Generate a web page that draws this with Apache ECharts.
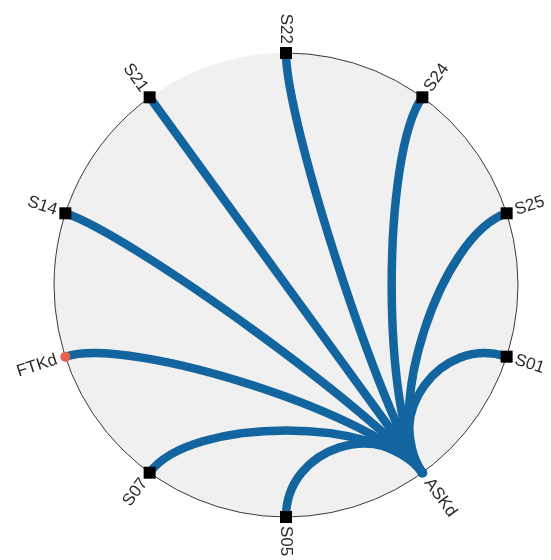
<!DOCTYPE html>
<html>
<head>
<meta charset="utf-8">
<script src="https://cdn.jsdelivr.net/npm/echarts@6/dist/echarts.min.js"></script>
<style>
  html, body { margin: 0; padding: 0; background: #fff; }
  #chart { width: 551px; height: 560px; }
</style>
</head>
<body>
<div id="chart"></div>
<script>
// nodes around the ring, clockwise from the top
const nodes = ["S22", "S24", "S25", "S01", "ASKd", "S05", "S07", "FTKd", "S14", "S21"];
// every link goes out of ASKd
const linkSource = ["ASKd", "ASKd", "ASKd", "ASKd", "ASKd", "ASKd", "ASKd", "ASKd", "ASKd"];
const linkTarget = ["S22", "S24", "S25", "S01", "S05", "S07", "FTKd", "S14", "S21"];
// all nodes sit on the rim
const nodeRadius = [1, 1, 1, 1, 1, 1, 1, 1, 1, 1];

const edgeColor = "#13659f";
const markerStyle = {
  ASKd: { shape: "circle", color: edgeColor },
  FTKd: { shape: "circle", color: "#e8614b" }
};
// how far the bezier handles are pulled toward the centre
const pull = 0.3;

let myChart = echarts.init(document.getElementById("chart"));

// cubic curve, both handles pulled in toward the centre of the ring
function renderEdge(params, api) {
  const p1 = api.coord([1, api.value(2)]);
  const p2 = api.coord([1, api.value(1)]);
  const c = api.coord([0, 0]);
  return {
    type: "bezierCurve",
    shape: {
      x1: p1[0],
      y1: p1[1],
      cpx1: p1[0] + (c[0] - p1[0]) * pull,
      cpy1: p1[1] + (c[1] - p1[1]) * pull,
      cpx2: p2[0] + (c[0] - p2[0]) * pull,
      cpy2: p2[1] + (c[1] - p2[1]) * pull,
      x2: p2[0],
      y2: p2[1]
    },
    style: { stroke: edgeColor, lineWidth: 8.5, fill: "none" }
  };
}

function renderNode(params, api) {
  const name = nodes[api.value(1)];
  const p = api.coord([api.value(0), api.value(1)]);
  const c = api.coord([0, 0]);
  const rad = Math.atan2(p[1] - c[1], p[0] - c[0]);
  const dx = p[0] - c[0];
  const isLeft = dx < -0.5 || (Math.abs(dx) <= 0.5 && p[1] < c[1]);
  const textRad = isLeft ? rad - Math.PI : rad;
  const ms = markerStyle[name];
  const marker = ms
    ? { type: "circle", shape: { cx: p[0], cy: p[1], r: 5 }, style: { fill: ms.color } }
    : { type: "rect", shape: { x: p[0] - 6, y: p[1] - 6, width: 12, height: 12 }, style: { fill: "#000" } };
  return {
    type: "group",
    children: [
      marker,
      {
        type: "text",
        x: p[0],
        y: p[1],
        rotation: -textRad,
        style: {
          text: name,
          x: isLeft ? -9 : 9,
          y: 0,
          align: isLeft ? "right" : "left",
          verticalAlign: "middle",
          fill: "#2a2a2a",
          font: "17px 'Liberation Sans', Arial, sans-serif"
        }
      }
    ]
  };
}

myChart.setOption({
  backgroundColor: "#fff",
  animation: false,
  polar: { center: [286, 285], radius: 232 },
  angleAxis: {
    type: "category",
    data: nodes,
    startAngle: 90,
    clockwise: true,
    boundaryGap: false,
    axisLine: { show: true, lineStyle: { color: "#3a3a3a", width: 1 } },
    axisTick: { show: false },
    axisLabel: { show: false },
    splitLine: { show: false }
  },
  radiusAxis: {
    type: "value",
    min: 0,
    max: 1,
    interval: 1,
    axisLine: { show: false },
    axisTick: { show: false },
    axisLabel: { show: false },
    splitLine: { show: false },
    splitArea: { show: true, areaStyle: { color: ["#f0f0f0"] } }
  },
  series: [
    {
      type: "custom",
      coordinateSystem: "polar",
      clip: false,
      silent: true,
      data: linkSource.map((s, i) => [1, nodes.indexOf(s), nodes.indexOf(linkTarget[i])]),
      encode: { radius: 0, angle: 1 },
      renderItem: renderEdge,
      z: 2
    },
    {
      type: "custom",
      coordinateSystem: "polar",
      clip: false,
      silent: true,
      data: nodes.map((n, i) => [nodeRadius[i], i]),
      encode: { radius: 0, angle: 1 },
      renderItem: renderNode,
      z: 3
    }
  ]
});
</script>
</body>
</html>
